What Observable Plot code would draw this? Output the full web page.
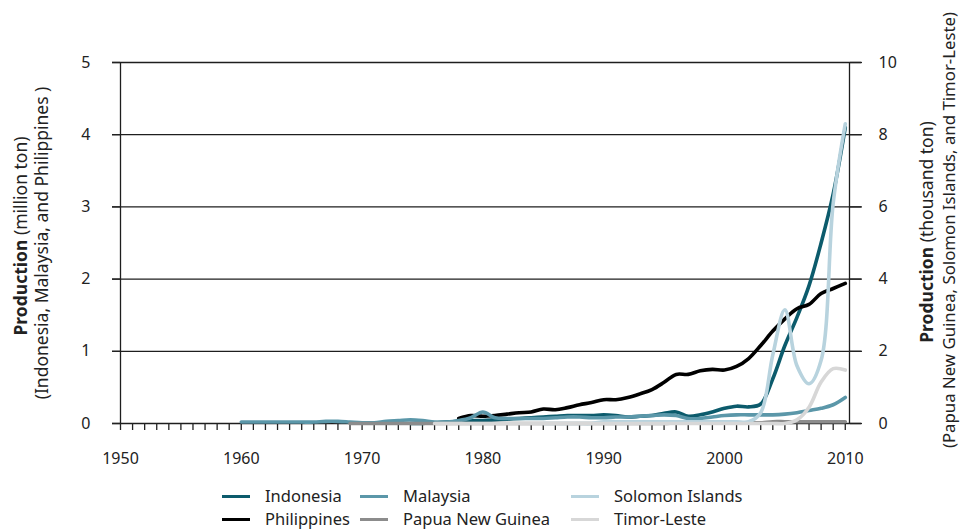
<!DOCTYPE html>
<html><head><meta charset="utf-8">
<script src="https://cdn.jsdelivr.net/npm/d3@7"></script>
<script src="https://cdn.jsdelivr.net/npm/@observablehq/plot@0.6"></script>
<style>
body{margin:0;background:#fff;font-family:"Noto Sans","Open Sans",sans-serif;}
#wrap{position:relative;width:960px;height:529px;overflow:hidden;}
#wrap svg{display:block;}
.leg{position:absolute;font-size:16.5px;line-height:22px;color:#222;display:flex;align-items:center;white-space:nowrap;}
.sw{display:inline-block;width:28px;height:3px;margin-right:15px;}
</style></head><body><div id="wrap"></div>
<script>
// ---- data ----
const leftTicks = [0, 1, 2, 3, 4, 5];            // million ton
const rightTickLabels = [0, 2, 4, 6, 8, 10];     // thousand ton
const leftMax = 5, rightMax = 10;
const decadeTicks = [1950, 1960, 1970, 1980, 1990, 2000, 2010];
const xDomain = [1950, 2010.35];

// million ton (left axis)
const indonesiaStart = 1974;
const indonesia = [0, 0, 0.01, 0.02, 0.03, 0.04, 0.04, 0.05, 0.06, 0.07, 0.08, 0.09, 0.1, 0.11, 0.11, 0.11,
  0.12, 0.11, 0.09, 0.1, 0.11, 0.14, 0.16, 0.1, 0.12, 0.16, 0.21, 0.24, 0.23, 0.27, 0.62, 1.08, 1.47, 1.91, 2.5, 3.18, 4.1];
const philippinesStart = 1978;
const philippines = [0.07, 0.11, 0.1, 0.11, 0.13, 0.15, 0.16, 0.2, 0.19, 0.22, 0.26, 0.29, 0.33, 0.33, 0.36, 0.41,
  0.47, 0.57, 0.68, 0.68, 0.73, 0.75, 0.74, 0.79, 0.9, 1.08, 1.28, 1.45, 1.59, 1.65, 1.8, 1.87, 1.94];
const malaysiaStart = 1960;
const malaysia = [0.02, 0.02, 0.02, 0.02, 0.02, 0.02, 0.02, 0.03, 0.03, 0.02, 0.01, 0.01, 0.03, 0.04, 0.05, 0.04,
  0.02, 0.02, 0.04, 0.08, 0.16, 0.08, 0.07, 0.07, 0.07, 0.07, 0.08, 0.09, 0.09, 0.08, 0.08, 0.09, 0.09, 0.1, 0.11,
  0.12, 0.11, 0.07, 0.07, 0.09, 0.11, 0.12, 0.12, 0.12, 0.12, 0.13, 0.15, 0.18, 0.21, 0.26, 0.36];
// thousand ton (right axis)
const pngStart = 1969;
const png = [0, 0, 0, 0, 0, 0, 0, 0, 0, 0, 0, 0, 0, 0, 0, 0, 0, 0, 0, 0, 0, 0, 0, 0, 0, 0, 0,
  0.02, 0.02, 0.02, 0.02, 0.02, 0.02, 0.02, 0.02, 0.05, 0.05, 0.05, 0.05, 0.05, 0.05, 0.05];
const solomonStart = 1985;
const solomon = [0, 0, 0, 0, 0, 0.05, 0.05, 0.05, 0.05, 0.05, 0.05, 0.05, 0.05, 0.05, 0.05, 0.05, 0.05,
  0.05, 0.3, 1.9, 3.15, 1.6, 1.1, 1.75, 6.1, 8.3];
const timorStart = 1976;
const timor = [0, 0, 0, 0, 0, 0, 0, 0, 0, 0, 0, 0, 0, 0, 0, 0, 0, 0, 0, 0, 0, 0, 0, 0, 0, 0, 0, 0, 0, 0,
  0.1, 0.45, 1.15, 1.52, 1.48];

const series = [
  {name: "Indonesia", start: indonesiaStart, values: indonesia, axis: "left", color: "#0c5b6c"},
  {name: "Philippines", start: philippinesStart, values: philippines, axis: "left", color: "#000000"},
  {name: "Malaysia", start: malaysiaStart, values: malaysia, axis: "left", color: "#5b97a9"},
  {name: "Papua New Guinea", start: pngStart, values: png, axis: "right", color: "#8c8c8c"},
  {name: "Solomon Islands", start: solomonStart, values: solomon, axis: "right", color: "#b8d3de"},
  {name: "Timor-Leste", start: timorStart, values: timor, axis: "right", color: "#d7d7d7"}
];
const rows = series.flatMap(s => s.values.map((v, i) => ({
  country: s.name, year: s.start + i, y: s.axis === "left" ? v : v * leftMax / rightMax
})));
const yearTicks = d3.range(decadeTicks[0], decadeTicks[decadeTicks.length - 1] + 1);

const chart = Plot.plot({
  width: 960, height: 478,
  marginLeft: 120, marginRight: 111, marginTop: 62, marginBottom: 55,
  style: {fontFamily: '"Noto Sans","Open Sans",sans-serif', color: "#222", background: "#fff"},
  x: {domain: xDomain},
  y: {domain: [0, leftMax]},
  color: {domain: series.map(s => s.name), range: series.map(s => s.color)},
  marks: [
    Plot.ruleY(leftTicks, {stroke: "#1e1e1e", strokeWidth: 1.3, insetLeft: -8, insetRight: -12}),
    Plot.ruleX(xDomain, {stroke: "#1e1e1e", strokeWidth: 1.3}),
    Plot.axisX({ticks: yearTicks, tickSize: 7, tickFormat: () => "", label: null, strokeWidth: 1.3}),
    Plot.axisX({ticks: decadeTicks, tickSize: 0, tickPadding: 29, tickFormat: "d", label: null, fontSize: 16}),
    Plot.axisY({ticks: leftTicks, anchor: "left", tickSize: 8, tickPadding: 22, tickFormat: "d", label: null, fontSize: 16, strokeWidth: 1.3}),
    Plot.axisY({ticks: leftTicks, anchor: "right", tickSize: 12, tickPadding: 17, label: null, fontSize: 16, strokeWidth: 1.3,
      tickFormat: (d) => String(rightTickLabels[leftTicks.indexOf(d)])}),
    Plot.lineY(rows, {x: "year", y: "y", z: "country", stroke: "country", strokeWidth: 3.6, curve: "catmull-rom"})
  ]
});
document.getElementById("wrap").appendChild(chart);

// rotated axis titles
const svg = d3.select(chart);
function title(x, y, size, parts) {
  const t = svg.append("text")
    .attr("transform", `translate(${x},${y}) rotate(-90)`)
    .attr("text-anchor", "middle").attr("font-size", size).attr("fill", "#222");
  parts.forEach(p => t.append("tspan").attr("font-weight", p.bold ? "bold" : null).text(p.text));
}
title(27, 236, 17.5, [{text: "Production", bold: true}, {text: " (million ton)"}]);
title(48, 243, 17.5, [{text: "(Indonesia, Malaysia, and Philippines )"}]);
title(933, 232, 17.5, [{text: "Production", bold: true}, {text: " (thousand ton)"}]);
title(955, 230, 16.8, [{text: "(Papua New Guinea, Solomon Islands, and Timor-Leste)"}]);

// legend
const legendOrder = [
  ["Indonesia", 222, 485], ["Malaysia", 360, 485], ["Solomon Islands", 571, 485],
  ["Philippines", 222, 508], ["Papua New Guinea", 360, 508], ["Timor-Leste", 571, 508]
];
const wrap = document.getElementById("wrap");
legendOrder.forEach(([name, left, top]) => {
  const s = series.find(d => d.name === name);
  const div = document.createElement("div");
  div.className = "leg";
  div.style.left = left + "px";
  div.style.top = top + "px";
  div.innerHTML = `<span class="sw" style="background:${s.color}"></span><span>${name}</span>`;
  wrap.appendChild(div);
});
</script>
</body></html>
